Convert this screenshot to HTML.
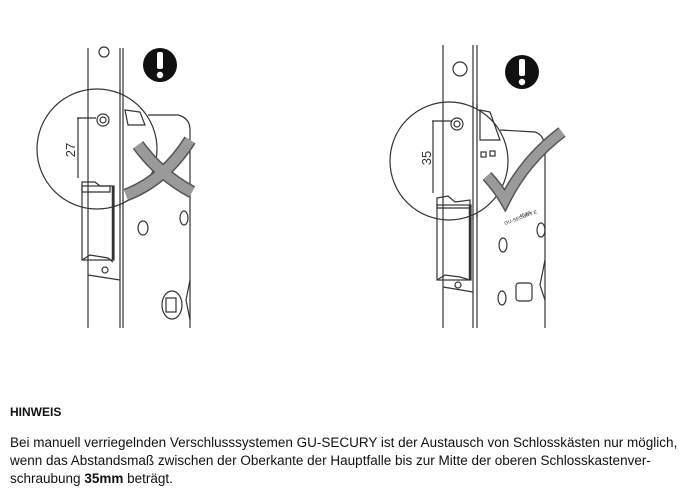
<!DOCTYPE html>
<html><head><meta charset="utf-8"><style>
body{margin:0;width:687px;height:498px;background:#fff;overflow:hidden;position:relative;font-family:"Liberation Sans",Arial,sans-serif;color:#111}
.t{position:absolute;left:10px;white-space:nowrap;font-size:13.5px;line-height:16px}
</style></head><body>
<svg width="687" height="340" style="position:absolute;left:0;top:0" fill="none" stroke="#333" stroke-width="1.2">
<!-- LEFT FIGURE -->
<line x1="88" y1="48" x2="88" y2="328"/><line x1="120" y1="48" x2="120" y2="328"/><line x1="123" y1="48" x2="123" y2="328"/>
<circle cx="104" cy="52" r="5"/>
<path d="M148 115 L178 115 Q190 118 190 130 L190 328"/>
<path d="M190 280 L186 300 L190 320"/>
<circle cx="97" cy="149" r="60" fill="#fff"/>
<line x1="88" y1="89" x2="88" y2="209"/><line x1="120" y1="89" x2="120" y2="209"/><line x1="123" y1="94" x2="123" y2="205"/>
<circle cx="103" cy="120" r="6"/><circle cx="103" cy="120" r="3"/>
<line x1="77" y1="118" x2="96" y2="118"/><line x1="78" y1="118" x2="78" y2="178"/>
<text x="0" y="0" transform="translate(75,150) rotate(-90)" font-size="13" fill="#333" stroke="none" text-anchor="middle" font-family="Liberation Sans">27</text>
<path d="M82 182 L95 182 L100 186 L110 186 L110 192 L82 192 Z"/>
<path d="M125 110 L140 112 L145 125 L128 125 Z"/>
<rect x="82" y="186" width="32" height="74"/><line x1="113" y1="186" x2="113" y2="260" stroke-width="2.5"/>
<path d="M82 260 L90 255 L108 258 L113 262"/>
<path d="M88 275 L120 280"/><circle cx="105" cy="270" r="3"/>
<ellipse cx="143" cy="228" rx="5" ry="7"/><ellipse cx="184" cy="218" rx="4" ry="7"/>
<ellipse cx="172" cy="305" rx="10" ry="14"/><rect x="166" y="298" width="10" height="14"/>
<g stroke-linecap="butt">
<path d="M138 145 Q160 175 192 192" stroke="#555" stroke-width="13"/>
<path d="M190 140 Q165 180 126 195" stroke="#555" stroke-width="13"/>
<path d="M138 145 Q160 175 192 192" stroke="#9a9a9a" stroke-width="10"/>
<path d="M190 140 Q165 180 126 195" stroke="#9a9a9a" stroke-width="10"/>
</g>
<circle cx="160" cy="65" r="17" fill="#111" stroke="none"/>
<rect x="157" y="52" width="6" height="17" rx="2" fill="#fff" stroke="none"/><circle cx="160" cy="75" r="3.2" fill="#fff" stroke="none"/>
<!-- RIGHT FIGURE -->
<line x1="443" y1="45" x2="443" y2="328"/><line x1="473" y1="45" x2="473" y2="328"/><line x1="477" y1="45" x2="477" y2="328"/>
<circle cx="460" cy="69" r="7"/>
<path d="M500 130 L535 132 Q545 135 545 150 L545 328"/>
<path d="M545 260 L540 285 L545 300"/>
<circle cx="449" cy="161" r="59" fill="#fff"/>
<line x1="443" y1="102" x2="443" y2="220"/><line x1="473" y1="102" x2="473" y2="220"/><line x1="477" y1="104" x2="477" y2="218"/>
<circle cx="457" cy="124" r="6"/><circle cx="457" cy="124" r="3"/>
<line x1="432" y1="121" x2="452" y2="121"/><line x1="433" y1="121" x2="433" y2="193"/>
<text x="0" y="0" transform="translate(431,158) rotate(-90)" font-size="13" fill="#333" stroke="none" text-anchor="middle" font-family="Liberation Sans">35</text>
<path d="M437 198 L448 196 L455 202 L470 200 L470 208 L437 208 Z"/>
<path d="M480 110 L490 112 L500 140 L480 140 Z"/>
<rect x="481" y="152" width="5" height="5"/><rect x="490" y="151" width="5" height="5"/>
<rect x="437" y="205" width="34" height="75"/><line x1="470" y1="205" x2="470" y2="280" stroke-width="2.5"/>
<path d="M437 280 L445 275 L460 277 L470 280"/>
<path d="M443 287 L473 292"/><circle cx="458" cy="285" r="3"/>
<ellipse cx="503" cy="245" rx="4" ry="7"/><ellipse cx="541" cy="230" rx="4" ry="7"/>
<ellipse cx="502" cy="298" rx="4" ry="7"/><rect x="516" y="283" width="16" height="18" rx="3"/>
<text x="520" y="218" font-size="5" fill="#333" stroke="none" transform="rotate(-20 520 218)">45/65</text>
<text x="505" y="225" font-size="5" fill="#333" stroke="none" transform="rotate(-20 505 225)">GU-SECURY E</text>
<path d="M487 176 Q498 188 505 200 Q525 160 562 132" stroke="#555" stroke-width="12"/>
<path d="M487 176 Q498 188 505 200 Q525 160 562 132" stroke="#9a9a9a" stroke-width="9"/>
<circle cx="522" cy="72" r="17" fill="#111" stroke="none"/>
<rect x="519" y="59" width="6" height="17" rx="2" fill="#fff" stroke="none"/><circle cx="522" cy="82" r="3.2" fill="#fff" stroke="none"/>
</svg>
<div class="t" style="top:404px;font-weight:bold;font-size:12px">HINWEIS</div>
<div class="t" style="top:435px">Bei manuell verriegelnden Verschlusssystemen GU-SECURY ist der Austausch von Schlosskästen nur möglich,</div>
<div class="t" style="top:453px">wenn das Abstandsmaß zwischen der Oberkante der Hauptfalle bis zur Mitte der oberen Schlosskastenver-</div>
<div class="t" style="top:471px">schraubung <b>35mm</b> beträgt.</div>
</body></html>
